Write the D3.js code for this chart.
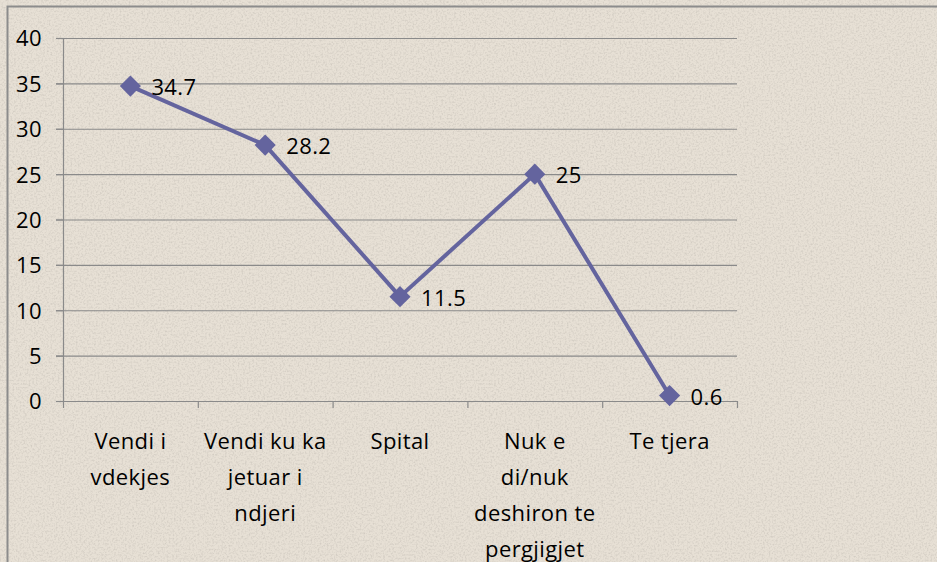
<!DOCTYPE html>
<html>
<head>
<meta charset="utf-8">
<script src="https://cdn.jsdelivr.net/npm/d3@7"></script>
<style>
  body { margin: 0; background: #e7e0d5; }
  svg { display: block; }
  text { font-family: "Open Sans", Lato, sans-serif; fill: #000; letter-spacing: 0.4px; }
</style>
</head>
<body>
<svg id="chart" width="937" height="562"></svg>
<script>
  const categories = [
    ['Vendi i', 'vdekjes'],
    ['Vendi ku ka', 'jetuar i', 'ndjeri'],
    ['Spital'],
    ['Nuk e', 'di/nuk', 'deshiron te', 'pergjigjet'],
    ['Te tjera']
  ];
  const values = [34.7, 28.2, 11.5, 25, 0.6];
  const yTicks = [0, 5, 10, 15, 20, 25, 30, 35, 40];

  const svg = d3.select('#chart');
  const margin = { top: 38, right: 200, bottom: 161, left: 63 };
  const width = +svg.attr('width') - margin.left - margin.right;
  const height = +svg.attr('height') - margin.top - margin.bottom;

  // paper texture
  const defs = svg.append('defs');
  const f = defs.append('filter').attr('id', 'paper')
    .attr('x', 0).attr('y', 0).attr('width', '100%').attr('height', '100%');
  f.append('feTurbulence')
    .attr('type', 'fractalNoise')
    .attr('baseFrequency', 0.55)
    .attr('numOctaves', 2)
    .attr('seed', 7)
    .attr('result', 'noise');
  f.append('feColorMatrix')
    .attr('in', 'noise')
    .attr('type', 'matrix')
    .attr('values', '0 0 0 0 0.45  0 0 0 0 0.42  0 0 0 0 0.38  0 0 0 -2.2 1.25');

  svg.append('rect')
    .attr('width', 937).attr('height', 562)
    .attr('fill', '#e7e0d5');
  svg.append('rect')
    .attr('width', 937).attr('height', 562)
    .attr('filter', 'url(#paper)')
    .attr('opacity', 0.4);

  // outer frame (only left and top visible)
  svg.append('path')
    .attr('d', 'M7.5,562V6.5H937')
    .attr('fill', 'none')
    .attr('stroke', '#8c8c8c')
    .attr('stroke-width', 2);

  const x = d3.scaleBand()
    .domain(d3.range(categories.length))
    .range([0, width]);
  const y = d3.scaleLinear()
    .domain([0, 40])
    .range([height, 0]);

  const g = svg.append('g')
    .attr('transform', 'translate(' + margin.left + ',' + margin.top + ')');

  // gridlines
  g.append('g')
    .selectAll('line')
    .data(yTicks.filter(d => d > 0))
    .join('line')
    .attr('x1', -7).attr('x2', width)
    .attr('y1', d => y(d) + 0.5).attr('y2', d => y(d) + 0.5)
    .attr('stroke', '#8a8a8a')
    .attr('stroke-width', 1.2);

  // y axis
  const yAxis = g.append('g')
    .call(d3.axisLeft(y).tickValues(yTicks).tickSize(7).tickPadding(8));
  yAxis.select('.domain').attr('stroke', '#8a8a8a').attr('stroke-width', 1.2)
    .attr('d', 'M0.5,0V' + height);
  yAxis.selectAll('.tick line').attr('stroke', '#8a8a8a').attr('stroke-width', 1.2);
  yAxis.selectAll('.tick text')
    .attr('x', -21)
    .style('font-size', '22px')
    .attr('dy', '0.36em');

  // x axis
  const xAxis = g.append('g')
    .attr('transform', 'translate(0,' + height + ')');
  xAxis.append('line')
    .attr('x1', -7).attr('x2', width)
    .attr('y1', 0.5).attr('y2', 0.5)
    .attr('stroke', '#8a8a8a').attr('stroke-width', 1.2);
  xAxis.selectAll('.xtick')
    .data(d3.range(categories.length + 1))
    .join('line')
    .attr('class', 'xtick')
    .attr('x1', d => d * x.step() + 0.5)
    .attr('x2', d => d * x.step() + 0.5)
    .attr('y1', 0).attr('y2', 7)
    .attr('stroke', '#8a8a8a').attr('stroke-width', 1.2);

  const labels = xAxis.selectAll('.xlabel')
    .data(categories)
    .join('text')
    .attr('class', 'xlabel')
    .attr('text-anchor', 'middle')
    .attr('transform', (d, i) => 'translate(' + (x(i) + x.bandwidth() / 2) + ',48)')
    .style('font-size', '22px');
  labels.selectAll('tspan')
    .data(d => d)
    .join('tspan')
    .attr('x', 0)
    .attr('y', (d, i) => i * 36)
    .text(d => d);

  // line
  const cx = (d, i) => x(i) + x.bandwidth() / 2;
  const line = d3.line()
    .x(cx)
    .y(d => y(d));

  g.append('path')
    .datum(values)
    .attr('fill', 'none')
    .attr('stroke', '#64649e')
    .attr('stroke-width', 4)
    .attr('stroke-linejoin', 'round')
    .attr('d', line);

  g.selectAll('.marker')
    .data(values)
    .join('path')
    .attr('class', 'marker')
    .attr('d', d3.symbol().type(d3.symbolDiamond2).size(285))
    .attr('transform', (d, i) => 'translate(' + cx(d, i) + ',' + y(d) + ')')
    .attr('fill', '#64649e');

  g.selectAll('.vlabel')
    .data(values)
    .join('text')
    .attr('class', 'vlabel')
    .attr('x', (d, i) => cx(d, i) + 21)
    .attr('y', d => y(d) + 9)
    .style('font-size', '22px')
    .text(d => d);
</script>
</body>
</html>
